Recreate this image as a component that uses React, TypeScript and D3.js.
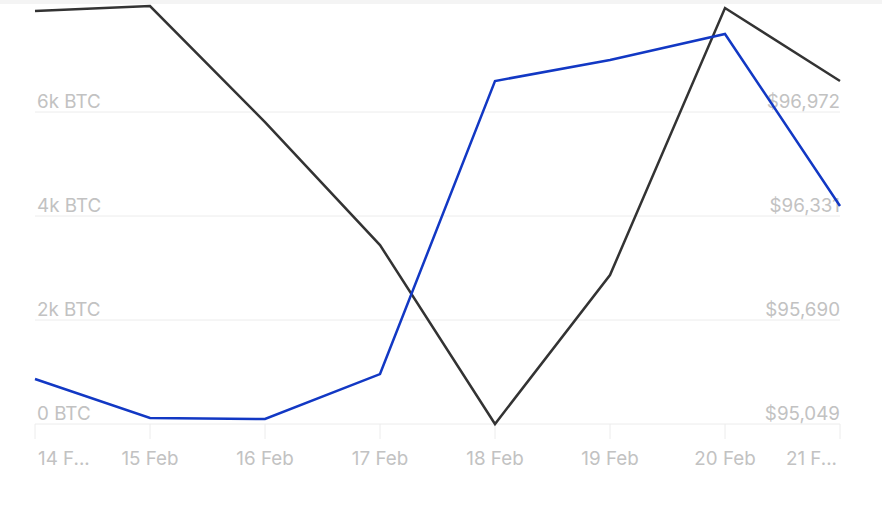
import React from "react";
import * as d3 from "d3";

const dates = ["14 Feb", "15 Feb", "16 Feb", "17 Feb", "18 Feb", "19 Feb", "20 Feb", "21 Feb"];
const dateLabels = ["14 F...", "15 Feb", "16 Feb", "17 Feb", "18 Feb", "19 Feb", "20 Feb", "21 F..."];
const volumeBTC = [865, 115, 96, 960, 6596, 7000, 7500, 4192];
const priceUSD = [97594, 97625, 96910, 96152, 95049, 95967, 97613, 97163];
const leftTicks = [0, 2000, 4000, 6000];
const leftTickLabels = ["0 BTC", "2k BTC", "4k BTC", "6k BTC"];
const rightTicks = [95049, 95690, 96331, 96972];
const rightTickLabels = ["$95,049", "$95,690", "$96,331", "$96,972"];

const W = 882;
const H = 506;
const x0 = 35;
const x1 = 840;
const yBase = 424;
const yTop = 112;

export default function App() {
  const x = d3.scalePoint<string>().domain(dates).range([x0, x1]);
  const yL = d3.scaleLinear().domain([0, 6000]).range([yBase, yTop]);
  const yR = d3.scaleLinear().domain([95049, 96972]).range([yBase, yTop]);

  const volLine = d3
    .line<number>()
    .x((_, i) => x(dates[i]) as number)
    .y((d) => yL(d))(volumeBTC) as string;
  const priceLine = d3
    .line<number>()
    .x((_, i) => x(dates[i]) as number)
    .y((d) => yR(d))(priceUSD) as string;

  const font = "Inter, 'Liberation Sans', Arial, sans-serif";
  const grey = "#c2c2c2";
  const fs = 18.8;

  return (
    <svg
      width={W}
      height={H}
      style={{ position: "absolute", left: 0, top: 0, background: "#fff" }}
    >
      <rect x={0} y={0} width={W} height={4} fill="#f4f4f4" />
      {leftTicks.map((t, i) => (
        <line key={"g" + i} x1={x0} x2={x1} y1={yL(t)} y2={yL(t)} stroke="#ececec" strokeWidth={1} />
      ))}
      {dates.map((d, i) => (
        <line key={"t" + i} x1={x(d)} x2={x(d)} y1={yBase} y2={yBase + 15} stroke="#ececec" strokeWidth={1} />
      ))}
      {leftTicks.map((t, i) => (
        <text key={"l" + i} x={37} y={yL(t) - 4} fontFamily={font} fontSize={fs} fill={grey}>
          {leftTickLabels[i]}
        </text>
      ))}
      {rightTicks.map((t, i) => (
        <text key={"r" + i} x={x1} y={yR(t) - 4} textAnchor="end" fontFamily={font} fontSize={fs} fill={grey}>
          {rightTickLabels[i]}
        </text>
      ))}
      {dates.map((d, i) => (
        <text
          key={"x" + i}
          x={i === 0 ? x0 + 3 : i === dates.length - 1 ? x1 - 3 : (x(d) as number)}
          y={465}
          textAnchor={i === 0 ? "start" : i === dates.length - 1 ? "end" : "middle"}
          fontFamily={font}
          fontSize={fs}
          fill={grey}
        >
          {dateLabels[i]}
        </text>
      ))}
      <path d={priceLine} fill="none" stroke="#333333" strokeWidth={2.5} strokeLinejoin="miter" />
      <path d={volLine} fill="none" stroke="#1238c4" strokeWidth={2.5} strokeLinejoin="miter" />
    </svg>
  );
}
